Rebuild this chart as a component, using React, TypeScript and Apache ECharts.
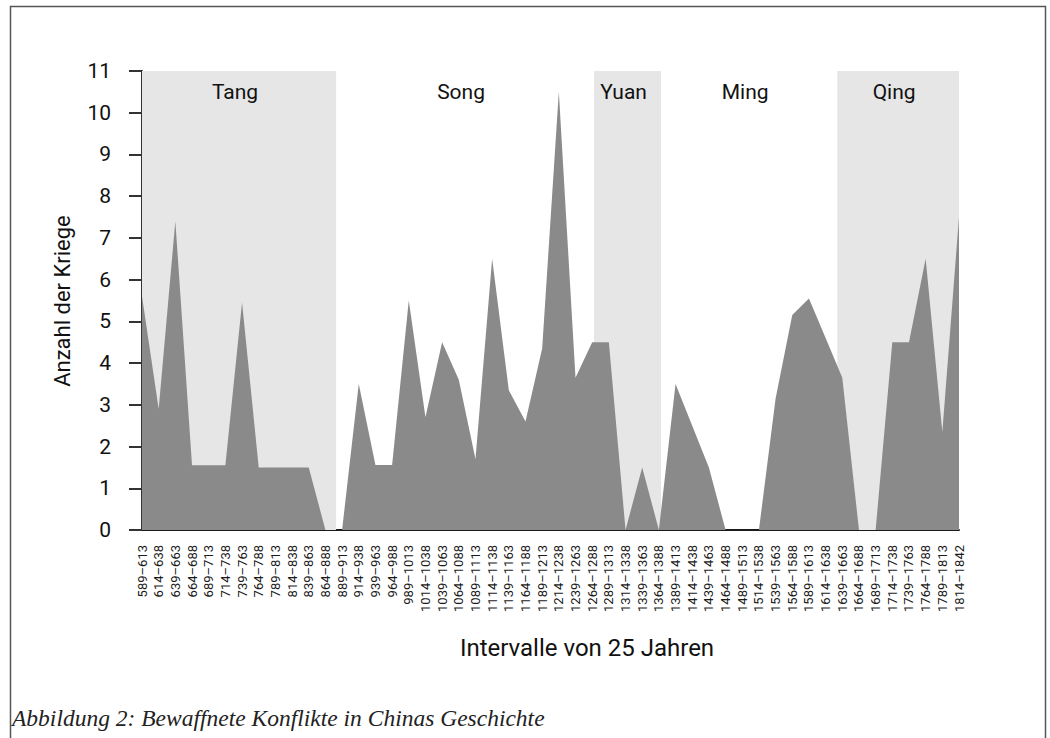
import React, { useEffect, useRef } from "react";
import * as echarts from "echarts";

const categories = [
  "589–613", "614–638", "639–663", "664–688", "689–713", "714–738", "739–763", "764–788", "789–813", "814–838",
  "839–863", "864–888", "889–913", "914–938", "939–963", "964–988", "989–1013", "1014–1038", "1039–1063", "1064–1088",
  "1089–1113", "1114–1138", "1139–1163", "1164–1188", "1189–1213", "1214–1238", "1239–1263", "1264–1288", "1289–1313", "1314–1338",
  "1339–1363", "1364–1388", "1389–1413", "1414–1438", "1439–1463", "1464–1488", "1489–1513", "1514–1538", "1539–1563", "1564–1588",
  "1589–1613", "1614–1638", "1639–1663", "1664–1688", "1689–1713", "1714–1738", "1739–1763", "1764–1788", "1789–1813", "1814–1842",
];

const wars = [
  5.6, 2.9, 7.4, 1.55, 1.55, 1.55, 5.45, 1.5, 1.5, 1.5,
  1.5, 0, 0, 3.5, 1.56, 1.56, 5.5, 2.7, 4.5, 3.6,
  1.7, 6.5, 3.35, 2.6, 4.35, 10.5, 3.65, 4.5, 4.5, 0,
  1.5, 0, 3.5, 2.5, 1.5, 0, 0, 0, 3.15, 5.15,
  5.55, 4.6, 3.65, 0, 0, 4.5, 4.5, 6.5, 2.35, 7.5,
];

const dynasties = ["Tang", "Song", "Yuan", "Ming", "Qing"];
const dynastyStart = [0, 11.64, 27.11, 31.13, 41.7];
const dynastyEnd = [11.64, 27.11, 31.13, 41.7, 49];
const dynastyShaded = [true, false, true, false, true];

const yTitle = "Anzahl der Kriege";
const xTitle = "Intervalle von 25 Jahren";
const caption = "Abbildung 2: Bewaffnete Konflikte in Chinas Geschichte";

export default function App() {
  const ref = useRef<HTMLDivElement>(null);

  useEffect(() => {
    if (!ref.current) return;
    const chart = echarts.init(ref.current, null, { renderer: "svg" });
    const font = "Roboto";
    chart.setOption({
      animation: false,
      backgroundColor: "#ffffff",
      grid: { left: 142, right: 91, top: 71, bottom: 208 },
      xAxis: [
        {
          type: "category",
          data: categories,
          boundaryGap: false,
          axisLine: { show: true, lineStyle: { color: "#1a1a1a", width: 2 } },
          axisTick: { show: false },
          axisLabel: {
            rotate: 90,
            interval: 0,
            fontSize: 13,
            color: "#1a1a1a",
            fontFamily: font,
            margin: 15,
          },
          splitLine: { show: false },
        },
        { type: "value", min: 0, max: 49, show: false },
      ],
      yAxis: {
        type: "value",
        min: 0,
        max: 11,
        interval: 1,
        axisLine: { show: true, lineStyle: { color: "#333", width: 2 } },
        axisTick: { show: true, length: 13, lineStyle: { color: "#333", width: 2 } },
        axisLabel: { fontSize: 21, color: "#111", margin: 31, fontFamily: font },
        splitLine: { show: false },
      },
      series: [
        {
          type: "line",
          xAxisIndex: 1,
          data: [[0, 0], [49, 0]],
          symbol: "none",
          lineStyle: { opacity: 0 },
          silent: true,
          z: 1,
          markArea: {
            silent: true,
            label: {
              show: true,
              position: "insideTop",
              distance: 10,
              fontSize: 21,
              color: "#111",
              fontFamily: font,
              offset: [-4, 0],
            },
            data: dynasties.map((name, i) => [
              {
                name,
                xAxis: dynastyStart[i],
                itemStyle: { color: dynastyShaded[i] ? "#e6e6e6" : "rgba(255,255,255,0)" },
              },
              { xAxis: dynastyEnd[i] },
            ]),
          },
        },
        {
          type: "line",
          xAxisIndex: 0,
          data: wars,
          symbol: "none",
          lineStyle: { width: 0 },
          areaStyle: { color: "#8a8a8a", opacity: 1 },
          z: 2,
        },
      ],
      graphic: [
        {
          type: "rect",
          silent: true,
          shape: { x: 10.5, y: 6.5, width: 1035, height: 760 },
          style: { fill: "none", stroke: "#555", lineWidth: 1.5 },
        },
        {
          type: "text",
          x: 62,
          y: 301,
          rotation: Math.PI / 2,
          style: {
            text: yTitle,
            fontSize: 22,
            fontFamily: font,
            fill: "#111",
            align: "center",
            verticalAlign: "middle",
          },
        },
        {
          type: "text",
          x: 587,
          y: 648,
          style: {
            text: xTitle,
            fontSize: 24,
            fontFamily: font,
            fill: "#111",
            align: "center",
            verticalAlign: "middle",
          },
        },
        {
          type: "text",
          x: 12,
          y: 718,
          style: {
            text: caption,
            fontSize: 23.5,
            fontFamily: "Liberation Serif",
            fontStyle: "italic",
            fill: "#222",
            align: "left",
            verticalAlign: "middle",
          },
        },
      ],
    });
    return () => chart.dispose();
  }, []);

  return (
    <div
      ref={ref}
      style={{ position: "absolute", left: 0, top: 0, width: 1050, height: 738 }}
    />
  );
}
